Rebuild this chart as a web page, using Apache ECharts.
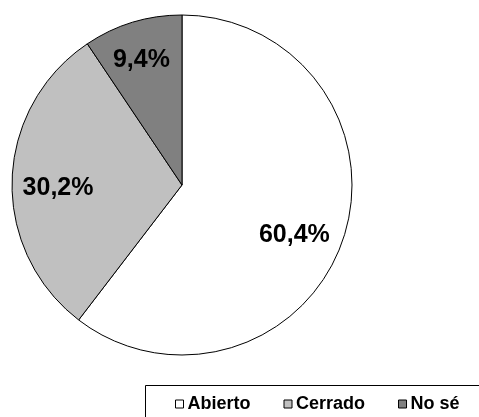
<!DOCTYPE html>
<html>
<head>
<meta charset="utf-8">
<script src="https://cdn.jsdelivr.net/npm/echarts@6/dist/echarts.min.js"></script>
<style>
  html, body { margin: 0; padding: 0; background: #fff; }
  #chart { width: 479px; height: 417px; }
</style>
</head>
<body>
<div id="chart"></div>
<script>
// Answer categories and their share (percent)
const categories = ['Abierto', 'Cerrado', 'No sé'];
const shares = [60.4, 30.2, 9.4];
const sliceColors = ['#ffffff', '#c0c0c0', '#808080'];

// Nudges that move each percentage label away from the mid-radius spot
const labelNudges = [[29, 22], [-36, 6], [-15, -41]];

const chart = echarts.init(document.getElementById('chart'));

chart.setOption({
  animation: false,
  backgroundColor: '#ffffff',
  // Frame around the legend, running off the right and bottom edges
  graphic: [{
    type: 'rect',
    shape: { x: 145.5, y: 385.5, width: 400, height: 100 },
    style: { fill: 'none', stroke: '#000000', lineWidth: 1 },
    silent: true
  }],
  legend: {
    left: 175,
    top: 395,
    width: 320,
    orient: 'horizontal',
    padding: 0,
    itemWidth: 8,
    itemHeight: 8,
    itemGap: 33,
    icon: 'rect',
    selectedMode: false,
    itemStyle: { borderColor: '#000000', borderWidth: 1 },
    textStyle: {
      fontFamily: 'Arial, "Liberation Sans", sans-serif',
      fontWeight: 'bold',
      fontSize: 18,
      color: '#000000',
      padding: [0, 0, 0, -1]
    },
    data: categories
  },
  series: [{
    type: 'pie',
    center: [182, 185],
    radius: 170,
    startAngle: 90,
    clockwise: true,
    silent: true,
    emphasis: { disabled: true, scale: false },
    itemStyle: { borderColor: '#000000', borderWidth: 1 },
    label: {
      show: true,
      position: 'inside',
      fontFamily: 'Arial, "Liberation Sans", sans-serif',
      fontWeight: 'bold',
      fontSize: 25,
      color: '#000000',
      formatter: p => p.value.toFixed(1).replace('.', ',') + '%'
    },
    labelLine: { show: false },
    labelLayout: p => ({ dx: labelNudges[p.dataIndex][0], dy: labelNudges[p.dataIndex][1] }),
    data: categories.map((name, i) => ({
      name,
      value: shares[i],
      itemStyle: { color: sliceColors[i] }
    }))
  }]
});
</script>
</body>
</html>
